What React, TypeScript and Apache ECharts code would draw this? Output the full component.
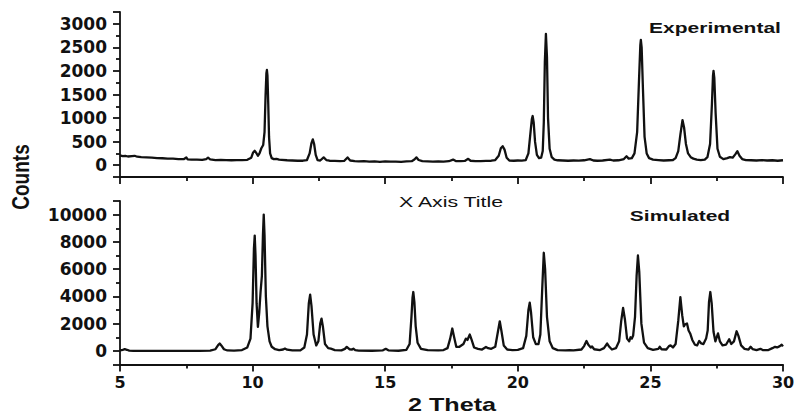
import React, { useEffect, useRef } from "react";
import * as echarts from "echarts";

// 2θ (deg), counts
const expData: [number, number][] = [
  [5.0, 210], [5.1, 195], [5.2, 200], [5.3, 185], [5.45, 195], [5.55, 200], [5.65, 180], [5.8, 170],
  [6.0, 165], [6.2, 160], [6.4, 150], [6.6, 148], [6.8, 140], [7.0, 138], [7.2, 130], [7.4, 128],
  [7.5, 165], [7.55, 125], [7.7, 120], [7.9, 118], [8.1, 115], [8.25, 130], [8.32, 160], [8.4, 125],
  [8.6, 110], [8.8, 112], [9.0, 108], [9.2, 105], [9.4, 110], [9.6, 108], [9.8, 115], [9.95, 160],
  [10.02, 270], [10.08, 305], [10.14, 260], [10.2, 200], [10.26, 250], [10.33, 360], [10.4, 430],
  [10.45, 700], [10.49, 1500], [10.52, 1950], [10.54, 2020], [10.56, 1900], [10.59, 1300], [10.62, 600],
  [10.66, 250], [10.72, 150], [10.8, 130], [10.9, 135], [11.0, 120], [11.1, 115], [11.3, 105], [11.5, 100],
  [11.7, 95], [11.9, 95], [12.05, 110], [12.15, 250], [12.22, 470], [12.27, 547], [12.32, 450], [12.38, 220],
  [12.45, 110], [12.55, 100], [12.68, 165], [12.78, 110], [12.9, 95], [13.1, 90], [13.3, 85], [13.45, 90],
  [13.58, 165], [13.68, 100], [13.85, 85], [14.0, 80], [14.2, 85], [14.4, 75], [14.6, 80], [14.8, 70],
  [15.0, 80], [15.2, 75], [15.4, 78], [15.6, 72], [15.8, 80], [16.0, 85], [16.1, 120], [16.18, 165],
  [16.26, 110], [16.4, 85], [16.6, 80], [16.8, 75], [17.0, 80], [17.2, 78], [17.4, 85], [17.56, 120],
  [17.66, 88], [17.85, 85], [18.0, 90], [18.13, 135], [18.22, 95], [18.4, 88], [18.6, 85], [18.8, 90],
  [19.0, 95], [19.15, 110], [19.28, 200], [19.36, 360], [19.43, 404], [19.5, 330], [19.58, 160], [19.68, 100],
  [19.85, 95], [20.0, 100], [20.15, 98], [20.3, 110], [20.4, 250], [20.48, 700], [20.53, 980], [20.56, 1043],
  [20.6, 900], [20.65, 500], [20.72, 220], [20.8, 150], [20.88, 160], [20.94, 300], [20.98, 900], [21.02, 2200],
  [21.06, 2787], [21.1, 2300], [21.14, 1000], [21.2, 350], [21.28, 170], [21.38, 120], [21.5, 105], [21.7, 100],
  [21.9, 95], [22.1, 100], [22.3, 98], [22.5, 105], [22.72, 130], [22.85, 100], [23.0, 95], [23.2, 100],
  [23.47, 120], [23.6, 100], [23.8, 105], [24.0, 130], [24.1, 190], [24.18, 140], [24.3, 150], [24.4, 250],
  [24.5, 700], [24.57, 1800], [24.62, 2550], [24.64, 2660], [24.67, 2500], [24.72, 1600], [24.78, 600],
  [24.86, 250], [24.95, 150], [25.1, 120], [25.3, 110], [25.5, 100], [25.7, 105], [25.85, 110], [25.95, 150],
  [26.05, 300], [26.13, 650], [26.21, 957], [26.27, 800], [26.34, 450], [26.42, 250], [26.52, 170], [26.62, 140],
  [26.75, 120], [26.9, 110], [27.05, 120], [27.15, 170], [27.25, 450], [27.32, 1300], [27.36, 1900], [27.38, 2000],
  [27.41, 1850], [27.46, 1100], [27.53, 350], [27.62, 180], [27.75, 130], [27.9, 150], [28.0, 170], [28.1, 160],
  [28.2, 230], [28.28, 298], [28.36, 200], [28.46, 130], [28.6, 110], [28.8, 105], [29.0, 100], [29.2, 110],
  [29.4, 100], [29.6, 105], [29.8, 95], [30.0, 105],
];

const simData: [number, number][] = [
  [5.0, 30], [5.1, 80], [5.18, 125], [5.26, 80], [5.35, 20], [5.5, 5], [6.0, 0], [7.0, 0], [8.0, 0],
  [8.4, 20], [8.6, 120], [8.7, 420], [8.76, 540], [8.82, 400], [8.92, 120], [9.05, 30], [9.3, 20], [9.6, 60],
  [9.8, 250], [9.92, 900], [10.0, 3500], [10.05, 7500], [10.08, 8460], [10.11, 7000], [10.15, 3500], [10.2, 1760],
  [10.25, 2800], [10.3, 4320], [10.35, 5500], [10.39, 8500], [10.42, 10000], [10.45, 8500], [10.5, 4000],
  [10.56, 1800], [10.64, 700], [10.72, 300], [10.85, 120], [11.0, 60], [11.15, 100], [11.22, 170], [11.3, 90],
  [11.5, 30], [11.8, 40], [11.95, 250], [12.05, 1200], [12.12, 3500], [12.17, 4120], [12.22, 3300], [12.3, 1200],
  [12.4, 400], [12.48, 700], [12.55, 2000], [12.6, 2370], [12.65, 1800], [12.73, 500], [12.85, 200], [12.95, 160],
  [13.1, 60], [13.35, 40], [13.48, 150], [13.55, 290], [13.65, 120], [13.75, 100], [13.8, 160], [13.87, 60],
  [14.0, 20], [14.5, 10], [14.9, 30], [15.02, 150], [15.12, 40], [15.5, 10], [15.8, 80], [15.92, 500],
  [15.99, 2500], [16.03, 3900], [16.06, 4320], [16.1, 3600], [16.15, 1800], [16.22, 600], [16.35, 150],
  [16.6, 50], [17.0, 30], [17.2, 60], [17.35, 200], [17.45, 900], [17.53, 1640], [17.6, 1000], [17.68, 300],
  [17.8, 300], [17.95, 500], [18.04, 900], [18.1, 800], [18.19, 1200], [18.26, 800], [18.35, 250], [18.5, 150],
  [18.65, 100], [18.8, 290], [18.88, 200], [19.0, 150], [19.15, 300], [19.25, 1400], [19.32, 2170], [19.38, 1500],
  [19.47, 400], [19.6, 100], [19.8, 60], [20.0, 80], [20.2, 200], [20.32, 1100], [20.4, 3000], [20.45, 3540],
  [20.5, 2800], [20.58, 1000], [20.68, 500], [20.78, 500], [20.85, 1200], [20.92, 4500], [20.98, 7200],
  [21.03, 6000], [21.1, 2500], [21.2, 700], [21.32, 200], [21.5, 60], [21.8, 30], [21.95, 60], [22.1, 40],
  [22.4, 100], [22.5, 350], [22.59, 730], [22.66, 450], [22.75, 250], [22.8, 320], [22.88, 120], [23.1, 60],
  [23.25, 200], [23.37, 540], [23.45, 300], [23.55, 100], [23.7, 200], [23.82, 700], [23.9, 2200], [23.97, 3150],
  [24.04, 2300], [24.12, 900], [24.2, 700], [24.25, 1000], [24.3, 900], [24.35, 1130], [24.42, 2500],
  [24.48, 5500], [24.53, 7000], [24.58, 5800], [24.66, 2000], [24.76, 600], [24.9, 200], [25.1, 80],
  [25.3, 150], [25.35, 300], [25.42, 120], [25.6, 100], [25.7, 350], [25.76, 400], [25.85, 250], [25.95, 500],
  [26.05, 2200], [26.13, 3950], [26.2, 2600], [26.26, 1800], [26.3, 1930], [26.38, 2010], [26.44, 1500],
  [26.5, 1280], [26.58, 800], [26.68, 450], [26.76, 400], [26.84, 730], [26.92, 550], [27.0, 500], [27.1, 900],
  [27.16, 1500], [27.21, 3600], [27.26, 4320], [27.31, 3500], [27.38, 1400], [27.45, 700], [27.55, 1280],
  [27.62, 700], [27.72, 400], [27.85, 450], [27.97, 850], [28.05, 500], [28.15, 700], [28.25, 1440], [28.32, 1100],
  [28.42, 400], [28.55, 150], [28.7, 100], [28.78, 300], [28.86, 120], [29.0, 60], [29.15, 150], [29.25, 50],
  [29.45, 60], [29.6, 200], [29.7, 300], [29.78, 250], [29.88, 350], [29.95, 450], [30.0, 330],
];

const thetaRange = [5, 30];
const thetaStep = 5;
const expRange = [-250, 3250];
const expLabelStep = 500;
const simRange = [-1000, 11000];
const simLabelStep = 2000;
const panelNames = ["Experimental", "Simulated"];
const xTitle = "2 Theta";
const yTitle = "Counts";
const strayTitle = "X Axis Title";

const INK = "#111";

export default function App() {
  const ref = useRef<HTMLDivElement>(null);
  useEffect(() => {
    const chart = echarts.init(ref.current!, null, { renderer: "svg" });
    const line = { color: INK, width: 1.8 };
    const labelFont = { fontFamily: "DejaVu Sans", fontWeight: "bold" as const, color: INK };
    const mkX = (gi: number, showLabel: boolean) => ({
      type: "value",
      gridIndex: gi,
      min: thetaRange[0],
      max: thetaRange[1],
      interval: thetaStep,
      axisLine: { show: true, onZero: false, lineStyle: line },
      axisTick: { show: true, length: 7, lineStyle: line },
      minorTick: { show: true, splitNumber: 2, length: 4, lineStyle: line },
      splitLine: { show: false },
      axisLabel: { show: showLabel, fontSize: 16, margin: 10, ...labelFont },
    });
    const mkY = (gi: number, range: number[], step: number, split: number) => ({
      type: "value",
      gridIndex: gi,
      min: range[0],
      max: range[1],
      splitNumber: split,
      axisLine: { show: true, onZero: false, lineStyle: line },
      axisTick: { show: true, length: 7, lineStyle: line },
      minorTick: { show: true, splitNumber: 2, length: 4, lineStyle: line },
      splitLine: { show: false },
      axisLabel: {
        showMinLabel: false,
        showMaxLabel: false,
        fontSize: 17,
        margin: 13,
        ...labelFont,
        formatter: (v: number) => (Math.abs(v % step) < 1e-6 ? String(Math.round(v)) : ""),
      },
    });
    const txt = (text: string, x: number, y: number, font: string, extra: any = {}) => ({
      type: "text",
      x,
      y,
      ...extra,
      style: {
        text,
        font,
        fill: INK,
        textAlign: "center",
        textVerticalAlign: "middle",
        align: "center",
        verticalAlign: "middle",
      },
    });
    chart.setOption({
      animation: false,
      backgroundColor: "#fff",
      grid: [
        { left: 120, right: 15, top: 12, height: 165 },
        { left: 120, right: 15, top: 201, height: 163.5 },
      ],
      xAxis: [mkX(0, false), mkX(1, true)],
      yAxis: [
        mkY(0, expRange, expLabelStep, 7),
        mkY(1, simRange, simLabelStep, 6),
      ],
      series: [
        {
          type: "line",
          name: panelNames[0],
          xAxisIndex: 0,
          yAxisIndex: 0,
          data: expData,
          showSymbol: false,
          silent: true,
          lineStyle: { color: INK, width: 2.3, join: "round" },
        },
        {
          type: "line",
          name: panelNames[1],
          xAxisIndex: 1,
          yAxisIndex: 1,
          data: simData,
          showSymbol: false,
          silent: true,
          lineStyle: { color: INK, width: 2.3, join: "round" },
        },
      ],
      graphic: [
        txt(panelNames[0], 715, 28, "bold 15px 'Liberation Sans'", { scaleX: 1.4 }),
        txt(panelNames[1], 680, 216, "bold 15px 'Liberation Sans'", { scaleX: 1.4 }),
        txt(strayTitle, 451, 202, "15px 'Liberation Sans'", { scaleX: 1.42 }),
        txt(xTitle, 452, 405, "bold 18px 'Liberation Sans'", { scaleX: 1.4 }),
        txt(yTitle, 21, 177, "bold 19px 'Liberation Sans'", { rotation: Math.PI / 2, scaleY: 1.25 }),
      ],
    });
    return () => chart.dispose();
  }, []);
  return (
    <div
      ref={ref}
      style={{ position: "absolute", left: 0, top: 0, width: 798, height: 416, background: "#fff" }}
    />
  );
}
